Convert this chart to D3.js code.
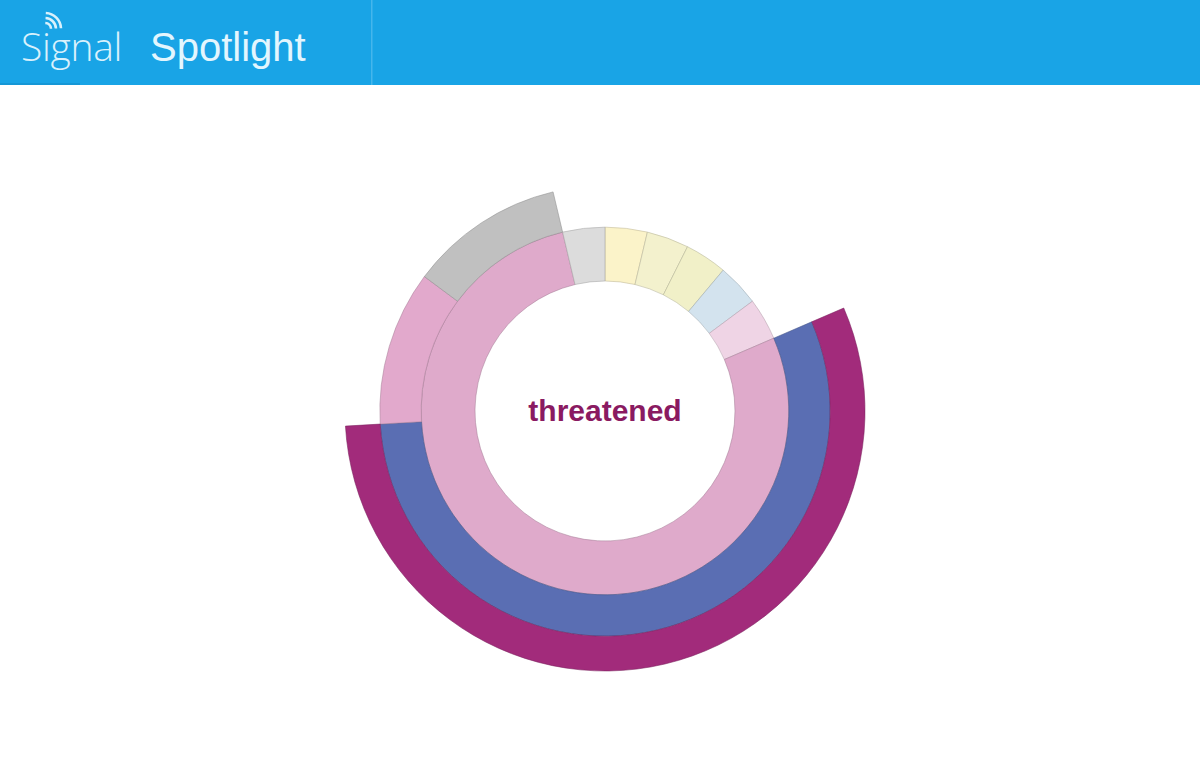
<!DOCTYPE html>
<html><head><meta charset="utf-8">
<script src="https://cdn.jsdelivr.net/npm/d3@7"></script>
<style>html,body{margin:0;padding:0;background:#fff;overflow:hidden}</style>
</head><body>
<svg id="c" width="1200" height="762"></svg>
<script>
// ---- data ----
const rootName = "threatened";
const level1Names  = ["y1","y2","y3","lightblue","lightpink","pinkMain","gray1"];
const level1Values = [1,1,1,1,1,null,1];
const level1Colors = ["#fbf3c9","#f3f1cd","#f1f0c8","#d3e3ee","#efd4e5","#dfaacb","#dcdcdc"];
const level2Names  = ["blue","pink2","gray2"];     // children of pinkMain
const level2Values = [null,3,3];
const level2Colors = ["#5a6eb3","#e2a9cc","#c0c0c0"];
const level3Names  = ["magenta"];                   // child of blue
const level3Values = [15];
const level3Colors = ["#a22b7b"];

// ---- hierarchy ----
const colorMap = {};
level1Names.forEach((n,i)=>colorMap[n]=level1Colors[i]);
level2Names.forEach((n,i)=>colorMap[n]=level2Colors[i]);
level3Names.forEach((n,i)=>colorMap[n]=level3Colors[i]);
const l3 = level3Names.map((n,i)=>({name:n,value:level3Values[i]}));
const l2 = level2Names.map((n,i)=> n==="blue" ? {name:n,children:l3} : {name:n,value:level2Values[i]});
const l1 = level1Names.map((n,i)=> n==="pinkMain" ? {name:n,children:l2} : {name:n,value:level1Values[i]});
const data = {name:rootName, children:l1};

const svg = d3.select("#c");
// header
const hdr = svg.append("g");
hdr.append("rect").attr("x",0).attr("y",0).attr("width",1200).attr("height",85).attr("fill","#19a4e6");
hdr.append("rect").attr("x",0).attr("y",83).attr("width",80).attr("height",2).attr("fill","#1597d6");
hdr.append("rect").attr("x",371).attr("y",0).attr("width",1.5).attr("height",85).attr("fill","#45b6ec");
hdr.append("text").attr("x",21).attr("y",61).attr("font-family","'Open Sans', 'DejaVu Sans', sans-serif")
  .attr("font-weight",300).attr("font-size",39).attr("letter-spacing",-0.3).attr("fill","#d9f1fc").text("Signal");
// wifi arcs
const wifi = hdr.append("g").attr("transform","translate(45,29)").attr("fill","none").attr("stroke","#d9f1fc").attr("stroke-width",2.6);
[6,11,16].forEach(r=>{
  wifi.append("path").attr("d", d3.arc().innerRadius(r).outerRadius(r).startAngle(0.05).endAngle(Math.PI/2-0.05)());
});
hdr.append("text").attr("x",150).attr("y",61).attr("font-family","'Liberation Sans', Arial, sans-serif")
  .attr("font-size",40).attr("fill","#e3f6fe").text("Spotlight");

// sunburst
const cx = 605, cy = 411, k = 130;
const root = d3.hierarchy(data).sum(d=>d.value||0);
d3.partition().size([2*Math.PI, 1])(root);
const rScale = d3.scaleSqrt().domain([0,1]).range([0,k]);
const arc = d3.arc()
  .startAngle(d=>d.x0).endAngle(d=>d.x1)
  .innerRadius(d=>rScale(d.depth))
  .outerRadius(d=>rScale(d.depth+1));

const g = svg.append("g").attr("transform",`translate(${cx},${cy})`);
g.selectAll("path").data(root.descendants().filter(d=>d.depth>0)).join("path")
  .attr("d",arc)
  .attr("fill",d=>colorMap[d.data.name])
  .attr("stroke",d=>d3.color(colorMap[d.data.name]).darker(0.8))
  .attr("stroke-opacity",0.55)
  .attr("stroke-width",1);

g.append("text").attr("text-anchor","middle").attr("y",10)
  .attr("font-family","'Liberation Sans', Arial, sans-serif").attr("font-weight","bold")
  .attr("font-size",30).attr("fill","#8a1a61").text(rootName);
</script>
</body></html>
